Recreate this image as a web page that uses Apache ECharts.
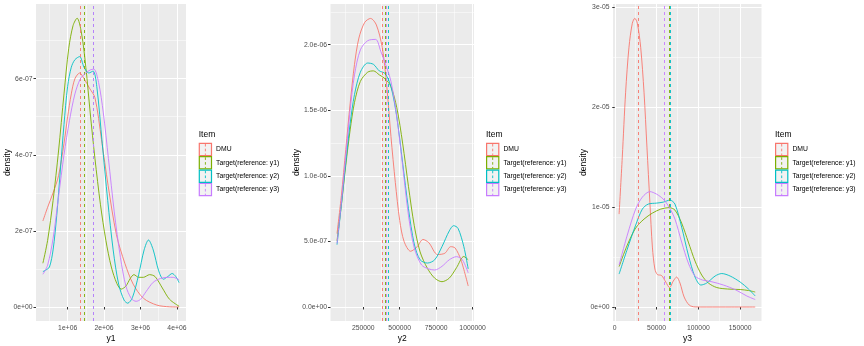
<!DOCTYPE html>
<html><head><meta charset="utf-8">
<script src="https://cdn.jsdelivr.net/npm/echarts@6/dist/echarts.min.js"></script>
<style>html,body{margin:0;padding:0;background:#fff}#c{width:864px;height:346px}</style>
</head><body><div id="c"></div>
<script>
// ---------- data ----------
const ITEMS = ['DMU', 'Target(reference: y1)', 'Target(reference: y2)', 'Target(reference: y3)'];
const COLORS = ['#F8766D', '#7CAE00', '#00BFC4', '#C77CFF'];
const LEGEND_TITLE = 'Item';

// Panel 1 (y1)
const p1_dmu_x = [320000,450000,600000,750000,900000,1000000,1100000,1200000,1330000,1450000,1600000,1750000,1930000,2110000,2340000,2570000,2800000,3080000,3450000,3800000,4060000];
const p1_dmu_y = [2.26e-7,2.62e-7,3.0e-7,3.45e-7,4.3e-7,5.0e-7,5.6e-7,6.0e-7,6.15e-7,6.0e-7,5.75e-7,5.5e-7,4.4e-7,3.2e-7,1.9e-7,1.15e-7,0.6e-7,0.23e-7,0.05e-7,0.005e-7,0];
const p1_y1_x = [320000,450000,600000,750000,900000,1030000,1150000,1260000,1380000,1500000,1620000,1750000,1900000,2050000,2200000,2350000,2470000,2600000,2720000,2820000,2950000,3080000,3250000,3400000,3600000,3800000,4060000];
const p1_y1_y = [1.15e-7,1.75e-7,2.8e-7,4.1e-7,5.6e-7,6.8e-7,7.4e-7,7.59e-7,7.2e-7,6.3e-7,5.1e-7,3.9e-7,2.7e-7,1.75e-7,1.05e-7,0.62e-7,0.47e-7,0.55e-7,0.75e-7,0.85e-7,0.78e-7,0.78e-7,0.85e-7,0.8e-7,0.5e-7,0.2e-7,0.02e-7];
const p1_y2_x = [320000,400000,500000,600000,700000,800000,900000,1000000,1100000,1200000,1330000,1450000,1580000,1700000,1800000,1950000,2100000,2250000,2400000,2550000,2650000,2780000,2950000,3100000,3220000,3350000,3500000,3630000,3750000,3870000,3970000,4060000];
const p1_y2_y = [0.93e-7,0.97e-7,1.05e-7,1.5e-7,2.4e-7,3.6e-7,4.8e-7,5.8e-7,6.3e-7,6.5e-7,6.58e-7,6.3e-7,6.15e-7,6.2e-7,5.8e-7,4.3e-7,2.8e-7,1.5e-7,0.6e-7,0.18e-7,0.1e-7,0.25e-7,0.85e-7,1.5e-7,1.76e-7,1.5e-7,0.95e-7,0.73e-7,0.8e-7,0.88e-7,0.8e-7,0.64e-7];
const p1_y3_x = [320000,450000,600000,750000,900000,1050000,1200000,1350000,1500000,1620000,1720000,1850000,1980000,2120000,2280000,2450000,2600000,2750000,2880000,3000000,3150000,3350000,3550000,3750000,3900000,4060000];
const p1_y3_y = [0.86e-7,1.1e-7,1.8e-7,2.9e-7,4.0e-7,4.9e-7,5.6e-7,6.0e-7,6.15e-7,6.23e-7,6.25e-7,5.9e-7,5.1e-7,3.9e-7,2.5e-7,1.3e-7,0.55e-7,0.22e-7,0.15e-7,0.2e-7,0.4e-7,0.65e-7,0.75e-7,0.78e-7,0.78e-7,0.71e-7];
const p1_means = [1351000, 1450000, 1697000, 1699000];

// Panel 2 (y2)
const p2_dmu_x = [70000,100000,130000,160000,190000,220000,260000,300000,340000,380000,410000,440000,470000,500000,530000,575000,620000,660000,700000,760000,810000,850000,880000,920000,970000];
const p2_dmu_y = [5.6e-7,8.5e-7,1.2e-6,1.55e-6,1.85e-6,2.05e-6,2.17e-6,2.2e-6,2.15e-6,1.98e-6,1.7e-6,1.3e-6,9.5e-7,6.6e-7,5.0e-7,4.25e-7,4.6e-7,5.15e-7,4.9e-7,4.0e-7,4.1e-7,4.6e-7,4.5e-7,3.6e-7,1.6e-7];
const p2_y1_x = [70000,100000,130000,160000,190000,230000,280000,320000,360000,400000,440000,480000,520000,560000,600000,640000,690000,740000,790000,840000,890000,940000,970000];
const p2_y1_y = [5.05e-7,7.8e-7,1.08e-6,1.35e-6,1.56e-6,1.72e-6,1.79e-6,1.8e-6,1.77e-6,1.74e-6,1.68e-6,1.52e-6,1.25e-6,9.2e-7,6.2e-7,4.2e-7,2.95e-7,2.2e-7,1.93e-7,2.2e-7,3.0e-7,3.85e-7,3.6e-7];
const p2_y2_x = [70000,100000,130000,160000,190000,230000,280000,320000,360000,400000,440000,480000,520000,560000,600000,640000,690000,740000,790000,840000,870000,900000,940000,970000];
const p2_y2_y = [4.75e-7,7.8e-7,1.1e-6,1.4e-6,1.62e-6,1.79e-6,1.86e-6,1.85e-6,1.8e-6,1.78e-6,1.68e-6,1.45e-6,1.1e-6,7.5e-7,4.8e-7,3.6e-7,3.35e-7,3.6e-7,4.6e-7,5.8e-7,6.2e-7,6.0e-7,4.6e-7,2.9e-7];
const p2_y3_x = [70000,100000,130000,160000,190000,230000,280000,335000,370000,400000,440000,480000,520000,560000,600000,650000,700000,740000,790000,840000,890000,930000,970000];
const p2_y3_y = [4.85e-7,8.0e-7,1.15e-6,1.5e-6,1.77e-6,1.96e-6,2.03e-6,2.04e-6,1.95e-6,1.86e-6,1.72e-6,1.45e-6,1.08e-6,7.0e-7,4.5e-7,3.2e-7,2.9e-7,2.82e-7,3.1e-7,3.6e-7,3.84e-7,3.6e-7,2.6e-7];
const p2_means = [380000, 401000, 420000, 410000];

// Panel 3 (y3)
const p3_dmu_x = [5200,9000,13000,17000,21000,24000,27000,31000,35000,38500,42000,45000,48000,51000,56000,61000,65500,70000,74000,78000,83000,89000,96000,110000,140000,168000];
const p3_dmu_y = [9.3e-6,1.5e-5,2.15e-5,2.6e-5,2.84e-5,2.89e-5,2.84e-5,2.6e-5,2.15e-5,1.6e-5,1.05e-5,6.0e-6,3.8e-6,3.25e-6,3.15e-6,2.5e-6,1.95e-6,2.6e-6,3.0e-6,2.4e-6,1.0e-6,2.0e-7,1e-8,0,0,0];
const p3_y1_x = [5200,15000,25000,35000,45000,55000,65000,72000,80000,88000,96000,104000,112000,122000,135000,150000,160000,168000];
const p3_y1_y = [4.05e-6,6.2e-6,7.9e-6,8.8e-6,9.4e-6,9.8e-6,9.95e-6,9.7e-6,8.4e-6,6.5e-6,4.6e-6,3.2e-6,2.4e-6,1.95e-6,1.8e-6,1.75e-6,1.65e-6,1.5e-6];
const p3_y2_x = [5200,15000,25000,33000,40000,50000,58000,66000,72000,80000,88000,96000,103000,110000,120000,128000,138000,150000,160000,168000];
const p3_y2_y = [3.3e-6,5.8e-6,8.2e-6,9.8e-6,1.03e-5,1.04e-5,1.05e-5,1.07e-5,1.03e-5,8.0e-6,5.2e-6,3.0e-6,2.2e-6,2.4e-6,3.1e-6,3.35e-6,3.1e-6,2.5e-6,1.8e-6,1.1e-6];
const p3_y3_x = [5200,15000,25000,33000,42000,50000,58000,65000,72000,80000,88000,96000,105000,115000,130000,145000,158000,168000];
const p3_y3_y = [4.2e-6,7.2e-6,9.8e-6,1.1e-5,1.155e-5,1.13e-5,1.08e-5,1.0e-5,8.8e-6,6.5e-6,4.4e-6,3.1e-6,2.7e-6,2.55e-6,2.2e-6,1.7e-6,1.1e-6,7.5e-7];
const p3_means = [28400, 65600, 65800, 59600];

// ticks
const p1_xticks = [1000000, 2000000, 3000000, 4000000];
const p1_xlabels = ['1e+06', '2e+06', '3e+06', '4e+06'];
const p1_xminor = [500000, 1500000, 2500000, 3500000];
const p1_yticks = [0, 2e-7, 4e-7, 6e-7];
const p1_ylabels = ['0e+00', '2e-07', '4e-07', '6e-07'];
const p1_yminor = [1e-7, 3e-7, 5e-7, 7e-7];

const p2_xticks = [250000, 500000, 750000, 1000000];
const p2_xlabels = ['250000', '500000', '750000', '1000000'];
const p2_xminor = [125000, 375000, 625000, 875000];
const p2_yticks = [0, 5e-7, 1e-6, 1.5e-6, 2e-6];
const p2_ylabels = ['0.0e+00', '5.0e-07', '1.0e-06', '1.5e-06', '2.0e-06'];
const p2_yminor = [2.5e-7, 7.5e-7, 1.25e-6, 1.75e-6, 2.25e-6];

const p3_xticks = [0, 50000, 100000, 150000];
const p3_xlabels = ['0', '50000', '100000', '150000'];
const p3_xminor = [25000, 75000, 125000, 175000];
const p3_yticks = [0, 1e-5, 2e-5, 3e-5];
const p3_ylabels = ['0e+00', '1e-05', '2e-05', '3e-05'];
const p3_yminor = [5e-6, 1.5e-5, 2.5e-5];

const AXIS_TITLES = ['y1', 'y2', 'y3'];
const Y_TITLE = 'density';

// ---------- build ----------
const FONT = 'Liberation Sans, Arial, Helvetica, sans-serif';
const zip = (xs, ys) => xs.map((x, i) => [x, ys[i]]);
const fmt = (vals, labels) => v => {
  for (let i = 0; i < vals.length; i++) {
    if (Math.abs(v - vals[i]) <= Math.abs(vals[i]) * 1e-6 + 1e-20) return labels[i];
  }
  return '';
};

const panels = [
  { grid: { left: 36, top: 4, width: 150, height: 317 }, xr: [131000, 4250000], yr: [-3.68e-8, 7.963e-7],
    xt: p1_xticks, xl: p1_xlabels, xm: p1_xminor, yt: p1_yticks, yl: p1_ylabels, ym: p1_yminor,
    series: [[p1_dmu_x, p1_dmu_y], [p1_y1_x, p1_y1_y], [p1_y2_x, p1_y2_y], [p1_y3_x, p1_y3_y]], means: p1_means,
    yGap: 24, legendLeft: 198.7 },
  { grid: { left: 330.5, top: 4, width: 143.5, height: 317 }, xr: [25250, 1009750], yr: [-1.067e-7, 2.31e-6],
    xt: p2_xticks, xl: p2_xlabels, xm: p2_xminor, yt: p2_yticks, yl: p2_ylabels, ym: p2_yminor,
    series: [[p2_dmu_x, p2_dmu_y], [p2_y1_x, p2_y1_y], [p2_y2_x, p2_y2_y], [p2_y3_x, p2_y3_y]], means: p2_means,
    yGap: 29.5, legendLeft: 486 },
  { grid: { left: 613, top: 4, width: 149, height: 317 }, xr: [-2100, 176100], yr: [-1.40e-6, 3.033e-5],
    xt: p3_xticks, xl: p3_xlabels, xm: p3_xminor, yt: p3_yticks, yl: p3_ylabels, ym: p3_yminor,
    series: [[p3_dmu_x, p3_dmu_y], [p3_y1_x, p3_y1_y], [p3_y2_x, p3_y2_y], [p3_y3_x, p3_y3_y]], means: p3_means,
    yGap: 25, legendLeft: 775 }
];

const grid = [], xAxis = [], yAxis = [], series = [], graphic = [];
const KEY = 13.4, LEG_TOP = 142.7;

panels.forEach((p, k) => {
  grid.push(Object.assign({ show: true, backgroundColor: '#EBEBEB', borderWidth: 0, containLabel: false, outerBoundsMode: 'none' }, p.grid));
  xAxis.push({
    gridIndex: k, type: 'value', min: p.xr[0], max: p.xr[1], position: 'bottom',
    name: AXIS_TITLES[k], nameLocation: 'middle', nameGap: 13.5, nameMoveOverlap: false,
    nameTextStyle: { fontFamily: FONT, fontSize: 8.5, color: '#000' },
    axisLine: { show: false },
    axisTick: { show: true, length: 2.5, customValues: p.xt, lineStyle: { color: '#333333', width: 1 } },
    axisLabel: { customValues: p.xt, formatter: fmt(p.xt, p.xl), fontFamily: FONT, fontSize: 6.8, color: '#4D4D4D', margin: 4, hideOverlap: false },
    splitLine: { show: true, lineStyle: { color: '#FFFFFF', width: 1 } }
  });
  xAxis.push({
    gridIndex: k, type: 'value', min: p.xr[0], max: p.xr[1], position: 'top',
    axisLine: { show: false }, axisTick: { show: false, customValues: p.xm },
    axisLabel: { show: false, customValues: p.xm },
    splitLine: { show: true, lineStyle: { color: '#FFFFFF', width: 0.5 } }
  });
  yAxis.push({
    gridIndex: k, type: 'value', min: p.yr[0], max: p.yr[1], position: 'left',
    name: Y_TITLE, nameLocation: 'middle', nameGap: p.yGap, nameMoveOverlap: false,
    nameTextStyle: { fontFamily: FONT, fontSize: 8.5, color: '#000' },
    axisLine: { show: false },
    axisTick: { show: true, length: 2.5, customValues: p.yt, lineStyle: { color: '#333333', width: 1 } },
    axisLabel: { customValues: p.yt, formatter: fmt(p.yt, p.yl), fontFamily: FONT, fontSize: 6.8, color: '#4D4D4D', margin: 3.5 },
    splitLine: { show: true, lineStyle: { color: '#FFFFFF', width: 1 } }
  });
  yAxis.push({
    gridIndex: k, type: 'value', min: p.yr[0], max: p.yr[1], position: 'right',
    axisLine: { show: false }, axisTick: { show: false, customValues: p.ym },
    axisLabel: { show: false, customValues: p.ym },
    splitLine: { show: true, lineStyle: { color: '#FFFFFF', width: 0.5 } }
  });

  p.series.forEach((s, i) => {
    series.push({
      type: 'line', name: ITEMS[i], xAxisIndex: 2 * k, yAxisIndex: 2 * k,
      data: zip(s[0], s[1]), smooth: 0.3, showSymbol: false, symbol: 'none',
      lineStyle: { color: COLORS[i], width: 0.9 }, itemStyle: { color: COLORS[i] },
      z: 2 + i, silent: true,
      markLine: {
        silent: true, symbol: ['none', 'none'], label: { show: false }, animation: false,
        lineStyle: { color: COLORS[i], type: [3, 3], width: 0.9 },
        emphasis: { disabled: true },
        data: [{ xAxis: p.means[i] }]
      }
    });
  });

  // legend (ggplot style keys: grey box with coloured border and dashed vline)
  const L = p.legendLeft;
  graphic.push({ type: 'text', left: L, top: 130, silent: true,
    style: { text: LEGEND_TITLE, font: '8.5px ' + FONT, fill: '#000' } });
  ITEMS.forEach((n, i) => {
    const y0 = LEG_TOP + i * KEY;
    graphic.push({ type: 'rect', silent: true, z: 100,
      shape: { x: L + 0.6, y: y0 + 0.6, width: KEY - 1.2, height: KEY - 1.2 },
      style: { fill: '#F2F2F2', stroke: COLORS[i], lineWidth: 1.2 } });
    graphic.push({ type: 'line', silent: true, z: 101,
      shape: { x1: L + KEY / 2, y1: y0 + 1.2, x2: L + KEY / 2, y2: y0 + KEY - 1.2 },
      style: { stroke: COLORS[i], lineWidth: 0.9, lineDash: [2.6, 2.2] } });
    graphic.push({ type: 'text', silent: true, z: 101, x: L + KEY + 4, y: y0 + KEY / 2,
      style: { text: n, font: '6.8px ' + FONT, fill: '#000', verticalAlign: 'middle', align: 'left' } });
  });
});

const chart = echarts.init(document.getElementById('c'), null, { renderer: 'canvas' });
chart.setOption({
  animation: false,
  backgroundColor: '#FFFFFF',
  grid, xAxis, yAxis, series, graphic
});
</script></body></html>
